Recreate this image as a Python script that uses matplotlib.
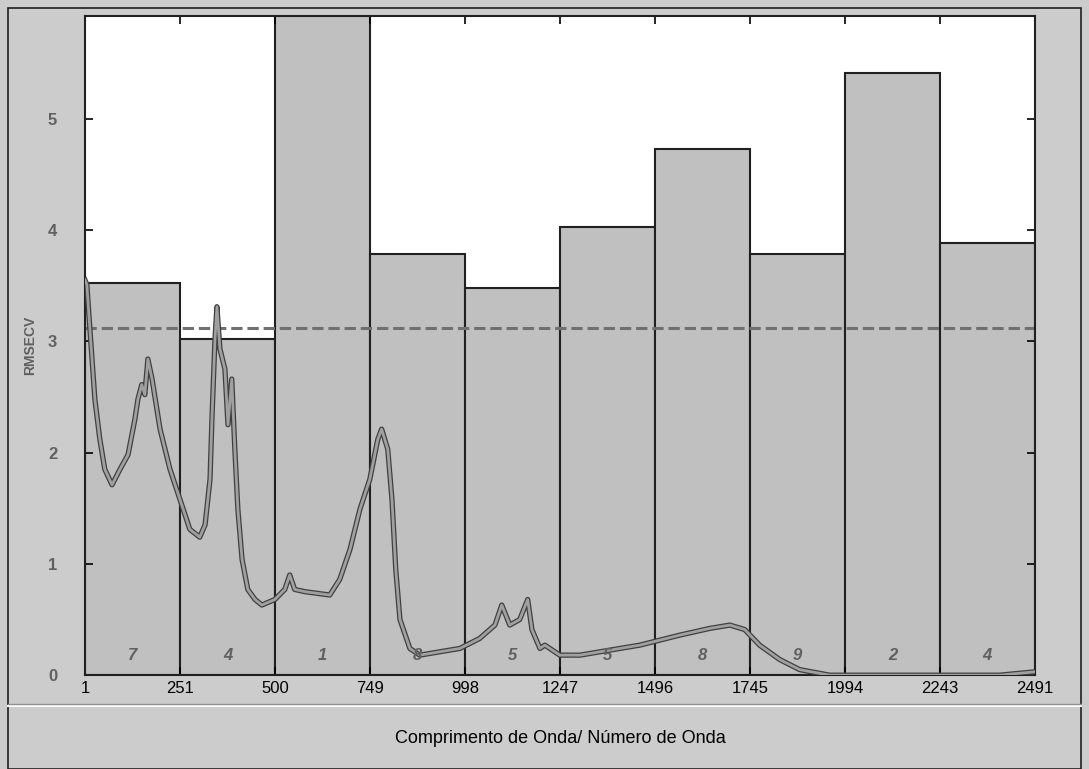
import numpy as np
import matplotlib
matplotlib.use('Agg')
import matplotlib.pyplot as plt
from matplotlib.patches import Rectangle

plt.rcParams['font.family'] = ['Liberation Sans', 'DejaVu Sans']

# interval edges (variable index) and RMSECV per interval
edges = [1, 251, 500, 749, 998, 1247, 1496, 1745, 1994, 2243, 2491]
rmsecv = [3.52, 3.02, 6.10, 3.78, 3.48, 4.03, 4.73, 3.78, 5.41, 3.88]
n_lv = ['7', '4', '1', '8', '5', '5', '8', '9', '2', '4']
global_rmsecv = 3.12

# mean spectrum overlay (scaled)
spec_x = [1, 6, 14, 27, 40, 53, 72, 93, 114, 132, 140, 150, 158, 166, 177, 198,
          224, 250, 276, 302, 316, 329, 334, 342, 347, 355, 368, 376, 386, 394,
          402, 413, 428, 447, 465, 499, 525, 538, 551, 578, 643, 669, 696, 722,
          748, 769, 779, 795, 806, 816, 827, 853, 879, 931, 984, 1036, 1076,
          1094, 1115, 1141, 1162, 1173, 1194, 1207, 1246, 1299, 1351, 1456,
          1561, 1639, 1692, 1731, 1770, 1823, 1875, 1954, 2399, 2491]
spec_y = [3.55, 3.51, 3.11, 2.48, 2.12, 1.85, 1.71, 1.85, 1.98, 2.30, 2.48, 2.61,
          2.52, 2.84, 2.66, 2.21, 1.85, 1.58, 1.31, 1.24, 1.35, 1.76, 2.30, 3.02,
          3.31, 2.93, 2.75, 2.25, 2.66, 2.03, 1.49, 1.04, 0.77, 0.68, 0.63, 0.68,
          0.77, 0.90, 0.77, 0.75, 0.72, 0.86, 1.13, 1.49, 1.76, 2.12, 2.21, 2.03,
          1.58, 0.95, 0.50, 0.24, 0.18, 0.21, 0.24, 0.33, 0.45, 0.63, 0.45, 0.50,
          0.68, 0.41, 0.24, 0.27, 0.18, 0.18, 0.21, 0.27, 0.36, 0.42, 0.45, 0.41,
          0.27, 0.14, 0.05, 0.0, 0.0, 0.03]

bg = '#cccccc'
fig = plt.figure(figsize=(10.89, 7.69), dpi=100, facecolor=bg)

# window frame and lower label panel
fig.patches.append(Rectangle((0.007, 0.0), 0.986, 0.99, transform=fig.transFigure,
                             fill=False, edgecolor='#202020', lw=1.2))
fig.lines.append(plt.Line2D([0.007, 0.993], [0.082, 0.082], transform=fig.transFigure,
                            color='white', lw=1.5))
fig.lines.append(plt.Line2D([0.007, 0.993], [0.084, 0.084], transform=fig.transFigure,
                            color='#909090', lw=1))

ax = fig.add_axes([0.078, 0.122, 0.872, 0.857])
ax.set_facecolor('white')

widths = np.diff(edges)
ax.bar(edges[:-1], rmsecv, width=widths, align='edge', color='#c0c0c0',
       edgecolor='#202020', linewidth=1.5, zorder=1)

for left, w, lab in zip(edges[:-1], widths, n_lv):
    ax.text(left + w / 2, 0.18, lab, ha='center', va='center', fontsize=12,
            color='#606060', style='italic', fontweight='bold', zorder=4)

ax.axhline(global_rmsecv, color='#707070', linestyle='--', lw=2.2, zorder=2)

ax.plot(spec_x, spec_y, color='#404040', lw=3.8, zorder=3)
ax.plot(spec_x, spec_y, color='#a0a0a0', lw=2.0, zorder=3)

ax.set_xlim(1, 2491)
ax.set_ylim(0, 5.92)
ax.set_xticks(edges)
ax.set_xticklabels([str(e) for e in edges], fontsize=12)
ax.set_yticks([0, 1, 2, 3, 4, 5])
ax.set_yticklabels(['0', '1', '2', '3', '4', '5'], fontsize=12, color='#606060',
                   fontweight='bold')
ax.tick_params(direction='in', top=True, right=True, length=6, width=1.2)
ax.tick_params(axis='y', pad=20)
ax.tick_params(axis='x', pad=4)
for s in ax.spines.values():
    s.set_linewidth(1.5)
    s.set_color('#202020')

ax.set_ylabel('RMSECV', fontsize=10, color='#606060', labelpad=8, fontweight='bold')
fig.text(0.515, 0.04, 'Comprimento de Onda/ Número de Onda', ha='center',
         va='center', fontsize=13)

fig.savefig('out.png', dpi=100, facecolor=bg)
